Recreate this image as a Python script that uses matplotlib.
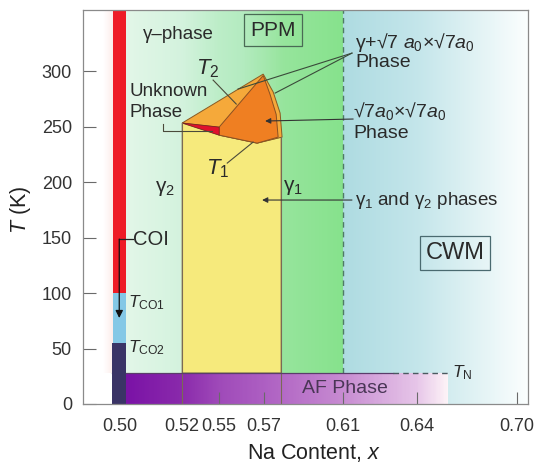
import numpy as np
import matplotlib
matplotlib.use("Agg")
import matplotlib.pyplot as plt
from matplotlib.colors import LinearSegmentedColormap, Normalize
from matplotlib.patches import Polygon

plt.rcParams['font.family'] = ['Liberation Sans', 'DejaVu Sans']
plt.rcParams['mathtext.fontset'] = 'custom'
plt.rcParams['mathtext.rm'] = 'Liberation Sans'
plt.rcParams['mathtext.it'] = 'Liberation Sans:italic'
plt.rcParams['mathtext.bf'] = 'Liberation Sans:bold'

# ---------------- data ----------------
x_ticks = [0.50, 0.52, 0.55, 0.57, 0.61, 0.64, 0.70]
x_tick_labels = ["0.50", "0.52", "0.55", "0.57", "0.61", "0.64", "0.70"]
y_ticks = [0, 50, 100, 150, 200, 250, 300]

x_min, x_max = 0.488, 0.7066
T_max = 355.5

# COI bar (x = 0.50)
bar_x = [0.4977, 0.5019]
T_CO1 = 100
T_CO2 = 55
T_N = 28
x_AF_end = 0.6586
x_TN_dash_start = 0.6303

# phase boundaries
x_gamma2 = 0.52
x_gamma1 = 0.5786
x_ppm_cwm = 0.61

# yellow (gamma1 + gamma2) region outline
yellow_x = [0.52, 0.52, 0.55, 0.5669, 0.5786, 0.5786]
yellow_T = [28, 253.2, 242.3, 235.1, 240.5, 28]
# gamma + sqrt7 phase (light orange)
light_x = [0.52, 0.5696, 0.5746, 0.5781, 0.5791, 0.5669, 0.55, 0.55]
light_T = [253.2, 297.3, 281.1, 262.2, 240.5, 235.1, 242.3, 249.5]
# sqrt7 phase (dark orange)
dark_x = [0.55, 0.5696, 0.5730, 0.5761, 0.5771, 0.5669, 0.55]
dark_T = [249.5, 296.0, 279.0, 261.0, 240.5, 235.1, 242.3]
# unknown phase (red wedge)
red_x = [0.52, 0.55, 0.55]
red_T = [253.2, 249.5, 242.3]

# ---------------- scale (schematic, non-uniform x axis) ----------------
knot_val = np.array([0.46, 0.50, 0.52, 0.55, 0.57, 0.61, 0.64, 0.70, 0.76])
knot_pos = np.array([-4.0, 120, 182, 219, 264, 343, 417, 517, 617])

def fwd(v):
    return np.interp(v, knot_val, knot_pos)

def inv(p):
    return np.interp(p, knot_pos, knot_val)

fig = plt.figure(figsize=(5.47, 4.63), dpi=100)
ax = fig.add_axes([83/547, (463-404)/463, 445/547, 394.5/463])
ax.set_xscale('function', functions=(fwd, inv))
ax.set_xlim(x_min, x_max)
ax.set_ylim(0, T_max)


def gradient(x0, x1, y0, y1, stops, z=0):
    pos = [(s[0]-x0)/(x1-x0) for s in stops]
    cols = [s[1] for s in stops]
    cmap = LinearSegmentedColormap.from_list('g', list(zip(pos, cols)))
    xs = np.linspace(x0, x1, 301)
    mids = 0.5*(xs[:-1]+xs[1:])
    ax.pcolormesh(xs, [y0, y1], mids[None, :], cmap=cmap,
                  norm=Normalize(x0, x1), shading='flat', zorder=z,
                  edgecolors='none', antialiased=False)

# faint pink left of bar
gradient(0.4945, bar_x[0], T_N, T_max, [(0.4945, '#ffffff'), (bar_x[0], '#fcecea')], z=0)
# mint -> green region
gradient(bar_x[1], x_ppm_cwm, T_N, T_max,
         [(bar_x[1], '#e2f6e8'), (0.52, '#d3f2dd'), (0.56, '#b4ebc0'),
          (0.58, '#96e49c'), (0.61, '#86e28c')], z=0)
# teal (CWM) region
gradient(x_ppm_cwm, x_max, 0, T_max,
         [(0.61, '#aedbe1'), (0.64, '#c3e5ea'), (0.67, '#dcf0f2'), (x_max, '#fbfefe')], z=0)
# AF band
gradient(0.4974, x_AF_end, 0, T_N,
         [(0.4974, '#74109c'), (0.5019, '#7a12a6'), (0.52, '#8a2aab'), (0.57, '#ad5fc2'),
          (0.61, '#c78bd1'), (0.64, '#e6c5e8'), (x_AF_end, '#fdf3f7')], z=1)

# yellow region and orange phases
ax.add_patch(Polygon(np.column_stack([yellow_x, yellow_T]), closed=True,
                     facecolor='#f6ea7c', edgecolor='#8c7f45', lw=0.7, zorder=2))
ax.add_patch(Polygon(np.column_stack([light_x, light_T]), closed=True,
                     facecolor='#f5a93a', edgecolor='#8a5a22', lw=0.7, zorder=3))
ax.add_patch(Polygon(np.column_stack([dark_x, dark_T]), closed=True,
                     facecolor='#ef7f22', edgecolor='#8a5022', lw=0.7, zorder=4))
ax.add_patch(Polygon(np.column_stack([red_x, red_T]), closed=True,
                     facecolor='#e0102c', edgecolor='#7a2020', lw=0.5, zorder=4))

# phase boundary lines
ax.plot([x_gamma2, x_gamma2], [0, 253.2], color='#7a6a55', lw=0.8, zorder=5)
ax.plot([x_gamma1, x_gamma1], [0, 240.5], color='#7a6a55', lw=0.8, zorder=5)
ax.plot([x_ppm_cwm, x_ppm_cwm], [T_N, T_max], color='#4f7a66', lw=1.0,
        ls=(0, (4, 3)), zorder=5)
ax.plot([0.4974, x_TN_dash_start], [T_N, T_N], color='#5a3d6a', lw=0.9, zorder=5)
ax.plot([x_TN_dash_start, x_AF_end], [T_N, T_N], color='#4a5a60', lw=1.0,
        ls=(0, (4, 3)), zorder=5)

# COI bar
ax.bar(bar_x[0], T_max - T_CO1, width=bar_x[1]-bar_x[0], bottom=T_CO1, align='edge',
       color='#ee1c26', zorder=6, linewidth=0)
ax.bar(bar_x[0], T_CO1 - T_CO2, width=bar_x[1]-bar_x[0], bottom=T_CO2, align='edge',
       color='#84c8e6', zorder=6, linewidth=0)
ax.bar(0.4974, T_CO2, width=bar_x[1]-0.4974, bottom=0, align='edge',
       color='#3a3466', zorder=6, linewidth=0)

# ---------------- text ----------------
tc = '#2a2a2a'
fs = 13.5
ax.text(0.5187, 333, 'γ–phase', fontsize=fs, ha='center', va='center', color=tc, zorder=8)
ax.text(0.5746, 337, 'PPM', fontsize=15, ha='center', va='center', color=tc, zorder=8,
        bbox=dict(boxstyle='square,pad=0.3', fc='none', ec='#4a6a55', lw=0.9))
ax.text(0.6628, 136, 'CWM', fontsize=17, ha='center', va='center', color=tc, zorder=8,
        bbox=dict(boxstyle='square,pad=0.25', fc='none', ec='#4a6a70', lw=0.9))

ax.text(0.5411, 302, r'$T_2$', fontsize=16, ha='center', va='center', color=tc, zorder=8)
ax.plot([0.5451, 0.5576], [291.9, 270.3], color='#4a4a3a', lw=0.8, zorder=7)
ax.text(0.5492, 212, r'$T_1$', fontsize=16, ha='center', va='center', color=tc, zorder=8)
ax.plot([0.5536, 0.5651], [217.1, 236.0], color='#4a4a3a', lw=0.8, zorder=7)

ax.text(0.5029, 272.5, 'Unknown\nPhase', fontsize=fs, ha='left', va='center',
        color=tc, linespacing=1.3, zorder=8)
ax.plot([0.5139, 0.5139, 0.5443], [252.3, 245.9, 245.9], color='#4a4a3a', lw=0.8, zorder=7)

ax.text(0.5145, 194.6, r'$\mathrm{\gamma}_{2}$', fontsize=15, ha='center', va='center',
        color=tc, zorder=8)
ax.text(0.5847, 195.5, r'$\mathrm{\gamma}_{1}$', fontsize=15, ha='center', va='center',
        color=tc, zorder=8)

ax.text(0.6149, 183.8, r'$\mathrm{\gamma}_{1}$ and $\mathrm{\gamma}_{2}$ phases',
        fontsize=fs, ha='left', va='center', color=tc, zorder=8)
ax.annotate('', xy=(0.5691, 183.8), xytext=(0.6136, 183.8),
            arrowprops=dict(arrowstyle='-|>', color='#333333', lw=0.8,
                            mutation_scale=8, shrinkA=0, shrinkB=0), zorder=7)

ax.text(0.6141, 255, '√7$a_0$×√7$a_0$\nPhase', fontsize=14, ha='left', va='center',
        color=tc, linespacing=1.25, zorder=8)
ax.annotate('', xy=(0.5705, 255), xytext=(0.6141, 256.8),
            arrowprops=dict(arrowstyle='-|>', color='#333333', lw=0.8,
                            mutation_scale=8, shrinkA=0, shrinkB=0), zorder=7)

ax.text(0.6149, 318, 'γ+√7 $a_0$×√7$a_0$\nPhase', fontsize=14, ha='left', va='center',
        color=tc, linespacing=1.0, zorder=8)
ax.plot([0.6136, 0.5584], [316.2, 283.8], color='#3a4a3a', lw=0.8, zorder=7)
ax.plot([0.6136, 0.5756], [316.2, 280.2], color='#3a4a3a', lw=0.8, zorder=7)

ax.text(0.5042, 148, 'COI', fontsize=14.5, ha='left', va='center', color=tc, zorder=8)
ax.plot([0.5040, 0.4997], [148.6, 148.6], color='#222222', lw=0.9, zorder=7)
ax.annotate('', xy=(0.4997, 77.5), xytext=(0.4997, 148.6),
            arrowprops=dict(arrowstyle='-|>', color='#111111', lw=0.9,
                            mutation_scale=11, shrinkA=0, shrinkB=0), zorder=7)
ax.text(0.5026, 91, r'$T_{\mathrm{CO1}}$', fontsize=12.5, ha='left', va='center', color=tc, zorder=8)
ax.text(0.5026, 51, r'$T_{\mathrm{CO2}}$', fontsize=12.5, ha='left', va='center', color=tc, zorder=8)

ax.text(0.6108, 14.4, 'AF Phase', fontsize=14, ha='center', va='center',
        color='#4a3656', zorder=8)
ax.text(0.661, 28, r'$T_{\mathrm{N}}$', fontsize=12.5, ha='left', va='center', color=tc, zorder=8)

# ---------------- axes styling ----------------
for s in ax.spines.values():
    s.set_color('#8a8a8a')
    s.set_linewidth(0.9)
    s.set_zorder(10)

ax.set_xticks(x_ticks)
ax.set_xticklabels(x_tick_labels)
ax.set_yticks(y_ticks)
ax.tick_params(axis='both', direction='in', length=9, width=0.8, color='#6a6a6a',
               labelsize=13, labelcolor='#333333')
ax.tick_params(axis='y', pad=8)
ax.tick_params(axis='x', pad=10)
ax.minorticks_off()
ax.set_axisbelow(False)

ax.set_xlabel('Na Content, $x$', fontsize=15.5, color='#222222')
ax.xaxis.set_label_coords((314-83)/445, -(442-404)/394.5)
ax.set_ylabel('$T$ (K)', fontsize=15.5, color='#222222')
ax.yaxis.set_label_coords(-(83-33)/445, (404-210)/394.5)

fig.savefig('out.png', dpi=100)
